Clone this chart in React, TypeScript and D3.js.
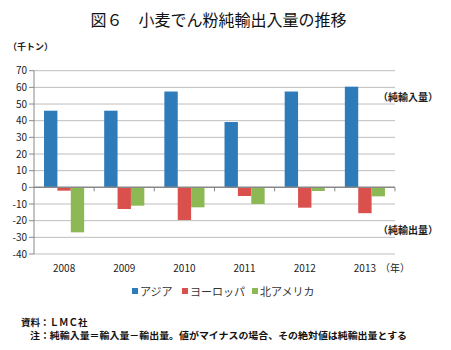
import React from "react";
import * as d3 from "d3";

const years = ["2008", "2009", "2010", "2011", "2012", "2013"];
const seriesNames = ["アジア", "ヨーロッパ", "北アメリカ"];
const asia = [46, 46, 57.5, 39.2, 57.5, 60.4];
const europe = [-2, -13, -19.6, -5.2, -12.2, -15.5];
const northAmerica = [-27, -11, -12, -10, -2.2, -5.4];
const yTicks = [70, 60, 50, 40, 30, 20, 10, 0, -10, -20, -30, -40];
const colors = ["#2E7BBA", "#D9504D", "#8DB955"];

const FONT = "'Noto Sans CJK JP', 'Noto Sans', sans-serif";

export default function App() {
  const W = 451, H = 350;
  const left = 34, right = 395, top = 70.7, bottom = 254;
  const x = d3.scaleBand().domain(years).range([left, right]).paddingInner(0.333).paddingOuter(0.1667);
  const y = d3.scaleLinear().domain([-40, 70]).range([bottom, top]);
  const series = [asia, europe, northAmerica];
  const bw = x.bandwidth() / 3;
  const step = x.step();
  return (
    <svg width={W} height={H} style={{ position: "absolute", left: 0, top: 0, background: "#fff" }} fontFamily={FONT}>
      <text x={218.5} y={26} textAnchor="middle" fontSize={16} fill="#111">図６　小麦でん粉純輸出入量の推移</text>
      <text x={8} y={50} fontSize={9} fontWeight="bold" fill="#222">（千トン）</text>
      {yTicks.map((t) => (
        <g key={t}>
          {t !== 0 && <line x1={left} x2={right} y1={y(t)} y2={y(t)} stroke="#BDBDBD" strokeWidth={1} />}
          <line x1={left - 5} x2={left} y1={y(t)} y2={y(t)} stroke="#888" />
          <text x={27} y={y(t) + 3.5} textAnchor="end" fontSize={10} fill="#222">{t}</text>
        </g>
      ))}
      <line x1={left} x2={left} y1={top} y2={bottom} stroke="#888" />
      {years.map((yr, i) => (
        <line key={yr} x1={left + step * (i + 1)} x2={left + step * (i + 1)} y1={y(0)} y2={y(0) + 4} stroke="#888" />
      ))}
      {series.map((vals, s) =>
        vals.map((v, i) => (
          <rect key={s + "-" + i} x={(x(years[i]) as number) + s * bw} width={bw}
            y={Math.min(y(v), y(0))} height={Math.abs(y(v) - y(0))} fill={colors[s]} />
        ))
      )}
      <line x1={left} x2={right} y1={y(0)} y2={y(0)} stroke="#888" strokeWidth={1.5} />
      {years.map((yr) => (
        <text key={yr} x={(x(yr) as number) + x.bandwidth() / 2} y={272} textAnchor="middle" fontSize={10} fill="#222">{yr}</text>
      ))}
      <text x={380} y={272} fontSize={10} fill="#222">（年）</text>
      <text x={378} y={101} fontSize={10} fontWeight="bold" fill="#222">（純輸入量）</text>
      <text x={378} y={234} fontSize={10} fontWeight="bold" fill="#222">（純輸出量）</text>
      {seriesNames.map((n, i) => {
        const lx = [132, 182, 252][i];
        return (
          <g key={n}>
            <rect x={lx} y={288} width={6} height={6} fill={colors[i]} />
            <text x={lx + 8} y={295.5} fontSize={11} fill="#333">{n}</text>
          </g>
        );
      })}
      <text x={21} y={326} fontSize={9.5} fontWeight="bold" fill="#111">資料：ＬＭＣ社</text>
      <text x={30} y={339} fontSize={9.5} fontWeight="bold" fill="#111" textLength={377} lengthAdjust="spacingAndGlyphs">注：純輸入量＝輸入量－輸出量。値がマイナスの場合、その絶対値は純輸出量とする</text>
    </svg>
  );
}
